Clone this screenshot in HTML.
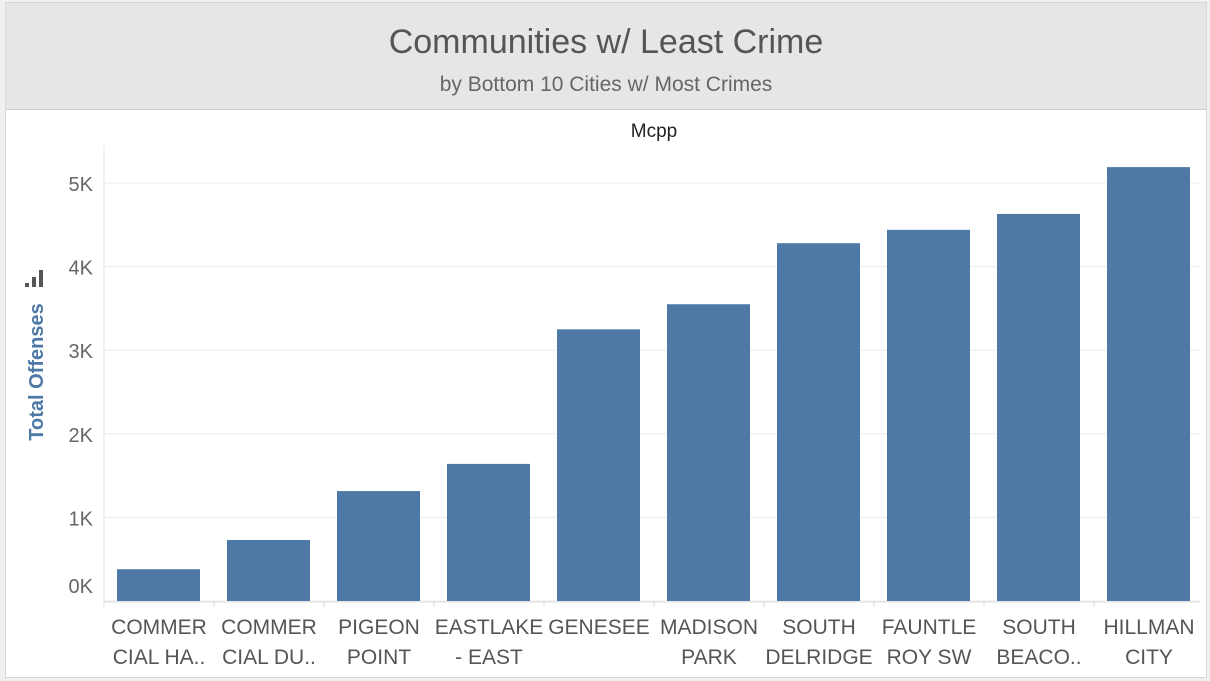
<!DOCTYPE html>
<html><head><meta charset="utf-8"><style>
body{margin:0;width:1210px;height:681px;background:#f0f0f0;font-family:"Liberation Sans",sans-serif;overflow:hidden}
#frame{position:absolute;left:5px;top:2px;width:1200px;height:674px;background:#fff;border:1px solid #d8d8d8}
#hdr{position:absolute;left:0;top:0;width:1200px;height:106px;background:#e6e6e6;border-bottom:1px solid #cfcfcf}
</style></head><body>
<div id="frame">
<div id="hdr"></div>
</div>
<svg id="c" width="1210" height="681" style="position:absolute;left:0;top:0">
<text x="606" y="53" text-anchor="middle" font-size="34" fill="#555">Communities w/ Least Crime</text>
<text x="606" y="91" text-anchor="middle" font-size="21" fill="#666">by Bottom 10 Cities w/ Most Crimes</text>
<text x="654" y="137" text-anchor="middle" font-size="19" fill="#222">Mcpp</text>
<text transform="translate(43,372) rotate(-90)" text-anchor="middle" font-size="20" font-weight="bold" fill="#4e79a7">Total Offenses</text>
<g fill="#555"><rect x="25" y="283" width="4" height="4"/><rect x="32" y="277" width="4" height="10"/><rect x="39" y="270" width="4" height="17"/></g>
<g id="g"></g>
</svg>
<script>
const categories=[["COMMER","CIAL HA.."],["COMMER","CIAL DU.."],["PIGEON","POINT"],["EASTLAKE","- EAST"],["GENESEE",""],["MADISON","PARK"],["SOUTH","DELRIDGE"],["FAUNTLE","ROY SW"],["SOUTH","BEACO.."],["HILLMAN","CITY"]];
const values=[380,730,1315,1640,3250,3550,4280,4440,4630,5190];
const ticks=[0,1000,2000,3000,4000,5000];
const tickLabels=["0K","1K","2K","3K","4K","5K"];
const g=document.getElementById('g');const NS='http://www.w3.org/2000/svg';
const y0=601,pxPer=83.6/1000,left=104,step=110,bw=83;
const y=v=>y0-v*pxPer, x=i=>left+i*step;
function mk(t,a){const e=document.createElementNS(NS,t);for(const k in a)e.setAttribute(k,a[k]);g.appendChild(e);return e;}
ticks.forEach((t,i)=>{
 const l=mk('line',{x1:left,x2:1200,y1:y(t),y2:y(t),stroke:'#ececec','stroke-width':1});
 
 
 const tx=mk('text',{x:93,y:y(t)+8-(t===0?16:0),'text-anchor':'end','font-size':20,fill:'#666'});
 tx.textContent=tickLabels[i];
 
 
});
const ax=mk('line',{x1:left,x2:left,y1:145,y2:606,stroke:'#e6e6e6'});


const bx=mk('line',{x1:left,x2:1200,y1:y0+1,y2:y0+1,stroke:'#ddd'});


values.forEach((v,i)=>{
 const r=mk('rect',{x:x(i)+13,y:y(v),width:bw,height:y0-y(v),fill:'#4e79a7'});
 
 
 const tk=mk('line',{x1:x(i),x2:x(i),y1:y0,y2:y0+6,stroke:'#ddd'});
 
 
 categories[i].forEach((s,j)=>{
  const t=mk('text',{x:x(i)+55,y:634+j*30,'text-anchor':'middle','font-size':21,fill:'#555'});
  t.textContent=s;
  
  
 });
});
</script>
</body></html>
